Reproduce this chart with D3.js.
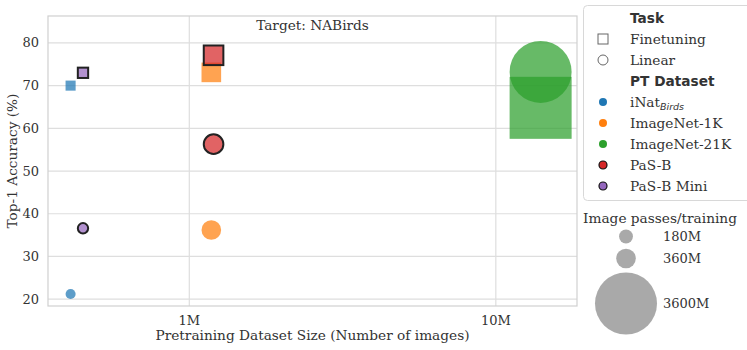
<!DOCTYPE html>
<html>
<head>
<meta charset="utf-8">
<script src="https://cdn.jsdelivr.net/npm/d3@7"></script>
<style>
  body { margin: 0; background: #fff; }
  text { font-family: "DejaVu Serif", serif; fill: #333; }
  .bold { font-family: "DejaVu Sans", sans-serif; font-weight: bold; }
</style>
</head>
<body>
<script>
// 데이터
const datasets = ["iNat_Birds", "ImageNet-1K", "ImageNet-21K", "PaS-B", "PaS-B Mini"];
const datasetSize = [410e3, 1.18e6, 14e6, 1.2e6, 450e3];
const finetuneAcc = [70.0, 73.1, 64.8, 77.1, 73.0];
const linearAcc = [21.2, 36.2, 73.2, 56.3, 36.6];
const passes = [95, 360, 3600, 360, 100]; // 백만 단위
const colors = ["#1f77b4", "#ff7f0e", "#2ca02c", "#d62728", "#9467bd"];
const edged = [false, false, false, true, true];

const yTicks = [20, 30, 40, 50, 60, 70, 80];
const xTicks = [1e6, 1e7];
const xTickLabels = ["1M", "10M"];
const sizeLegend = [180, 360, 3600];
const sizeLegendLabels = ["180M", "360M", "3600M"];

const W = 747, H = 350;
const margin = {top: 16, right: 170, bottom: 44, left: 48};
const fs = "13.7px";

const svg = d3.select("body").append("svg")
    .attr("width", W)
    .attr("height", H);

const x = d3.scaleLog()
    .domain([346e3, 18.4e6])
    .range([margin.left, W - margin.right]);
const y = d3.scaleLinear()
    .domain([18.4, 86.3])
    .range([H - margin.bottom, margin.top]);
const r = d3.scaleSqrt().domain([0, 3600]).range([0, 31]);

// 그리드
const grid = svg.append("g");
grid.selectAll(".gy").data(yTicks).join("line")
    .attr("x1", margin.left).attr("x2", W - margin.right)
    .attr("y1", d => y(d)).attr("y2", d => y(d))
    .attr("stroke", "#dedede").attr("stroke-width", 1.2);
grid.selectAll(".gx").data(xTicks).join("line")
    .attr("x1", d => x(d)).attr("x2", d => x(d))
    .attr("y1", margin.top).attr("y2", H - margin.bottom)
    .attr("stroke", "#dedede").attr("stroke-width", 1.2);

// 축 눈금 라벨
svg.append("g").selectAll("text").data(yTicks).join("text")
    .attr("x", margin.left - 9)
    .attr("y", d => y(d))
    .attr("dy", "0.35em")
    .attr("text-anchor", "end")
    .style("font-size", "13px")
    .text(d => d);
svg.append("g").selectAll("text").data(xTicks).join("text")
    .attr("x", d => x(d))
    .attr("y", H - margin.bottom + 19)
    .attr("text-anchor", "middle")
    .style("font-size", "13px")
    .text((d, i) => xTickLabels[i]);

svg.append("text")
    .attr("x", (margin.left + W - margin.right) / 2)
    .attr("y", 340)
    .attr("text-anchor", "middle")
    .style("font-size", fs)
    .text("Pretraining Dataset Size (Number of images)");
svg.append("text")
    .attr("transform", `translate(17, ${(margin.top + H - margin.bottom) / 2}) rotate(-90)`)
    .attr("text-anchor", "middle")
    .style("font-size", fs)
    .text("Top-1 Accuracy (%)");
svg.append("text")
    .attr("x", (margin.left + W - margin.right) / 2)
    .attr("y", 30)
    .attr("text-anchor", "middle")
    .style("font-size", fs)
    .text("Target: NABirds");

// 포인트
const pts = svg.append("g");
datasets.forEach((name, i) => {
    const cx = x(datasetSize[i]);
    const rad = r(passes[i]);
    pts.append("circle")
        .attr("cx", cx).attr("cy", y(linearAcc[i])).attr("r", rad)
        .attr("fill", colors[i]).attr("fill-opacity", 0.72)
        .attr("stroke", edged[i] ? "#222" : "none").attr("stroke-width", 2);
    pts.append("rect")
        .attr("x", cx - rad).attr("y", y(finetuneAcc[i]) - rad)
        .attr("width", rad * 2).attr("height", rad * 2)
        .attr("fill", colors[i]).attr("fill-opacity", 0.72)
        .attr("stroke", edged[i] ? "#222" : "none").attr("stroke-width", 2);
});

// 프레임
svg.append("rect")
    .attr("x", margin.left).attr("y", margin.top)
    .attr("width", W - margin.left - margin.right)
    .attr("height", H - margin.top - margin.bottom)
    .attr("fill", "none").attr("stroke", "#d0d0d0").attr("stroke-width", 1.2);

// 범례
const lg = svg.append("g");
lg.append("rect")
    .attr("x", 583.5).attr("y", 5.5).attr("width", 180).attr("height", 195)
    .attr("rx", 4).attr("fill", "#fff").attr("stroke", "#d8d8d8");
const mx = 603, tx = 630, rowH = 21, y0 = 18;

lg.append("text").attr("class", "bold").attr("x", tx).attr("y", y0).attr("dy", "0.35em")
    .style("font-size", fs).text("Task");
lg.append("rect").attr("x", mx - 5).attr("y", y0 + rowH - 5).attr("width", 10).attr("height", 10)
    .attr("fill", "none").attr("stroke", "#666");
lg.append("text").attr("x", tx).attr("y", y0 + rowH).attr("dy", "0.35em")
    .style("font-size", fs).text("Finetuning");
lg.append("circle").attr("cx", mx).attr("cy", y0 + rowH * 2).attr("r", 5)
    .attr("fill", "none").attr("stroke", "#666");
lg.append("text").attr("x", tx).attr("y", y0 + rowH * 2).attr("dy", "0.35em")
    .style("font-size", fs).text("Linear");
lg.append("text").attr("class", "bold").attr("x", tx).attr("y", y0 + rowH * 3).attr("dy", "0.35em")
    .style("font-size", fs).text("PT Dataset");

datasets.forEach((name, i) => {
    const yy = y0 + rowH * (4 + i);
    lg.append("circle").attr("cx", mx).attr("cy", yy).attr("r", 4)
        .attr("fill", colors[i])
        .attr("stroke", edged[i] ? "#111" : "none").attr("stroke-width", 1.2);
    const t = lg.append("text").attr("x", tx).attr("y", yy).attr("dy", "0.35em")
        .style("font-size", fs);
    if (name === "iNat_Birds") {
        t.append("tspan").text("iNat");
        t.append("tspan").attr("dy", "0.3em")
            .style("font-family", "DejaVu Sans, sans-serif")
            .style("font-style", "italic").style("font-size", "9.5px").text("Birds");
    } else {
        t.text(name);
    }
});

// 크기 범례
lg.append("text").attr("x", 660).attr("y", 218).attr("dy", "0.35em")
    .attr("text-anchor", "middle").style("font-size", fs).text("Image passes/training");
const sizeY = [236.5, 258.5, 303.5];
sizeLegend.forEach((s, i) => {
    lg.append("circle").attr("cx", 626).attr("cy", sizeY[i]).attr("r", r(s))
        .attr("fill", "#9a9a9a").attr("fill-opacity", 0.85);
    lg.append("text").attr("x", 663).attr("y", sizeY[i]).attr("dy", "0.35em")
        .style("font-size", "13px").text(sizeLegendLabels[i]);
});
</script>
</body>
</html>
